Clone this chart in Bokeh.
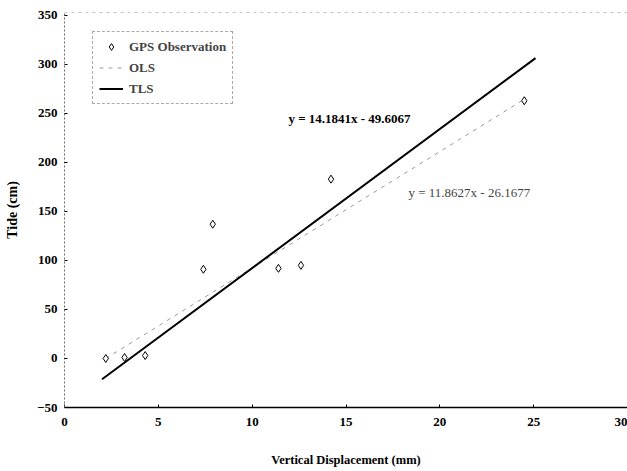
from bokeh.plotting import figure
from bokeh.models import Range1d, FixedTicker, Span, Legend, LegendItem, Label
from bokeh.embed import file_html
from bokeh.resources import INLINE

# ---- data ----
disp_mm = [2.2, 3.2, 4.3, 7.4, 7.9, 11.4, 12.6, 14.2, 24.5]
tide_cm = [0, 1, 3, 91, 137, 92, 95, 183, 263]

ols_slope, ols_intercept = 11.8627, -26.1677
tls_slope, tls_intercept = 14.1841, -49.6067
ols_x = [2.2, 24.5]
tls_x = [2.0, 25.1]

x_ticks = [0, 5, 10, 15, 20, 25, 30]
y_ticks = [-50, 0, 50, 100, 150, 200, 250, 300, 350]

ols_y = [ols_slope * x + ols_intercept for x in ols_x]
tls_y = [tls_slope * x + tls_intercept for x in tls_x]

FONT = "Liberation Serif"

p = figure(width=627, height=471, x_range=Range1d(0, 30), y_range=Range1d(-50, 353),
           output_backend="svg", toolbar_location=None,
           min_border_left=64, min_border_right=0, min_border_top=12, min_border_bottom=64)
p.outline_line_color = None
p.grid.visible = False
p.background_fill_color = "white"

# axes
p.xaxis.ticker = FixedTicker(ticks=x_ticks)
p.yaxis.ticker = FixedTicker(ticks=y_ticks)
for ax in (p.xaxis, p.yaxis):
    ax.major_tick_in = 3
    ax.major_tick_out = 0
    ax.minor_tick_in = 0
    ax.minor_tick_out = 0
    ax.major_label_text_font = FONT
    ax.major_label_text_font_style = "bold"
    ax.major_label_text_font_size = "13px"
    ax.major_label_text_color = "black"
    ax.axis_label_text_font = FONT
    ax.axis_label_text_font_style = "bold"
    ax.axis_label_text_color = "black"
p.xaxis.axis_label = "Vertical Displacement (mm)"
p.yaxis.axis_label = "Tide (cm)"
p.xaxis.axis_label_text_font_size = "12.5px"
p.yaxis.axis_label_text_font_size = "14px"
p.xaxis.major_label_standoff = 10
p.xaxis.axis_label_standoff = 24
p.yaxis.major_label_standoff = 7
p.yaxis.axis_label_standoff = 14
p.xaxis.axis_line_color = "black"
p.xaxis.axis_line_width = 1.5
p.yaxis.axis_line_color = "#666666"
p.yaxis.axis_line_dash = "2 2"
p.yaxis.axis_line_width = 1

# faint top border
p.add_layout(Span(location=353, dimension="width", line_color="#888888",
                  line_dash="3 4", line_width=1))

# lines and points
r_ols = p.line(ols_x, ols_y, line_color="#9a9a9a", line_dash="4 5", line_width=1)
r_tls = p.line(tls_x, tls_y, line_color="black", line_width=2)
r_obs = p.scatter(disp_mm, tide_cm, marker="diamond", size=8, fill_color="white",
                  line_color="black", line_width=1)

# equation labels
p.add_layout(Label(x=11.93, y=245, text="y = 14.1841x - 49.6067", text_font=FONT,
                   text_font_style="bold", text_font_size="13px", text_baseline="middle",
                   text_color="black"))
p.add_layout(Label(x=18.33, y=169, text="y = 11.8627x - 26.1677", text_font=FONT,
                   text_font_size="13px", text_baseline="middle", text_color="#444444"))

legend = Legend(items=[
    LegendItem(label="GPS Observation", renderers=[r_obs]),
    LegendItem(label="OLS", renderers=[r_ols]),
    LegendItem(label="TLS", renderers=[r_tls]),
], location=(28, 303))
legend.label_text_font = FONT
legend.label_text_font_style = "bold"
legend.label_text_font_size = "13px"
legend.label_height = 17
legend.glyph_height = 17
legend.glyph_width = 24
legend.label_standoff = 6
legend.spacing = 4
legend.padding = 6
legend.margin = 0
legend.border_line_color = "#555555"
legend.border_line_dash = "2 2"
legend.border_line_width = 1
legend.background_fill_color = "white"
p.add_layout(legend)

open("out.html", "w").write(file_html(p, INLINE))
